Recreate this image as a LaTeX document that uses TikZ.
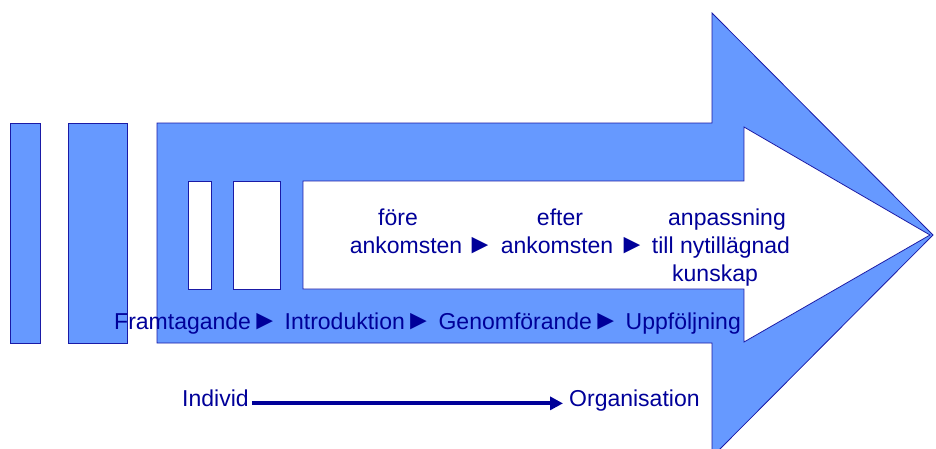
\documentclass[tikz,border=0pt]{standalone}
\usepackage{fontspec}
\setmainfont{Liberation Sans}
\usetikzlibrary{arrows.meta}
\definecolor{arrowfill}{HTML}{6699FF}
\definecolor{navy}{HTML}{000099}
\definecolor{edge}{HTML}{1A1AA6}
\newcommand{\fwdtri}{\scalebox{1.2}{►}}

\begin{document}
\begin{tikzpicture}[x=1pt, y=-1pt,
  block/.style={draw=edge, line width=0.8pt, fill=arrowfill},
  hole/.style={draw=edge, line width=0.8pt, fill=white},
  txt/.style={inner sep=0pt, font=\fontsize{23}{28}\selectfont, text=navy},
  flow/.style={-{Triangle[length=13pt, width=13pt]}, line width=4pt, color=navy}
]
  \useasboundingbox (0,0) rectangle (936,448);
  \clip (0,0) rectangle (936,448);

  % big arrow and its bars
  \draw[block] (10,123) rectangle (40,343);
  \draw[block] (68,123) rectangle (127,343);
  \draw[block] (157,123) -- (712,123) -- (712,13) -- (933,235) -- (712,457)
    -- (712,343) -- (157,343) -- cycle;

  % white arrow inside
  \draw[hole] (188,181) rectangle (211,289);
  \draw[hole] (233,181) rectangle (280,289);
  \draw[hole] (303,181) -- (744,181) -- (744,127) -- (930,235) -- (744,342)
    -- (744,289) -- (303,289) -- cycle;

  % phases
  \node[txt, anchor=base] (fore)    at (398,225) {före};
  \node[txt, anchor=base] (ank1)    at (406,253) {ankomsten};
  \node[txt, anchor=base] (pil1)    at (480,253) {\fwdtri};
  \node[txt, anchor=base] (efter)   at (560,225) {efter};
  \node[txt, anchor=base] (ank2)    at (557,253) {ankomsten};
  \node[txt, anchor=base] (pil2)    at (632,253) {\fwdtri};
  \node[txt, anchor=base] (anpass)  at (727,225) {anpassning};
  \node[txt, anchor=base] (nytill)  at (721,253) {till nytillägnad};
  \node[txt, anchor=base] (kunskap) at (715,281) {kunskap};

  \node[txt, anchor=base west] (steps) at (114,329)
    {Framtagande\fwdtri{} Introduktion\fwdtri{} Genomförande\fwdtri{} Uppföljning};

  % individ -> organisation
  \node[txt, anchor=base west] (individ)      at (182,406) {Individ};
  \node[txt, anchor=base west] (organisation) at (569,406) {Organisation};
  \draw[flow, shorten <=3pt, shorten >=6pt] (individ.mid east) -- (organisation.mid west);
\end{tikzpicture}
\end{document}
